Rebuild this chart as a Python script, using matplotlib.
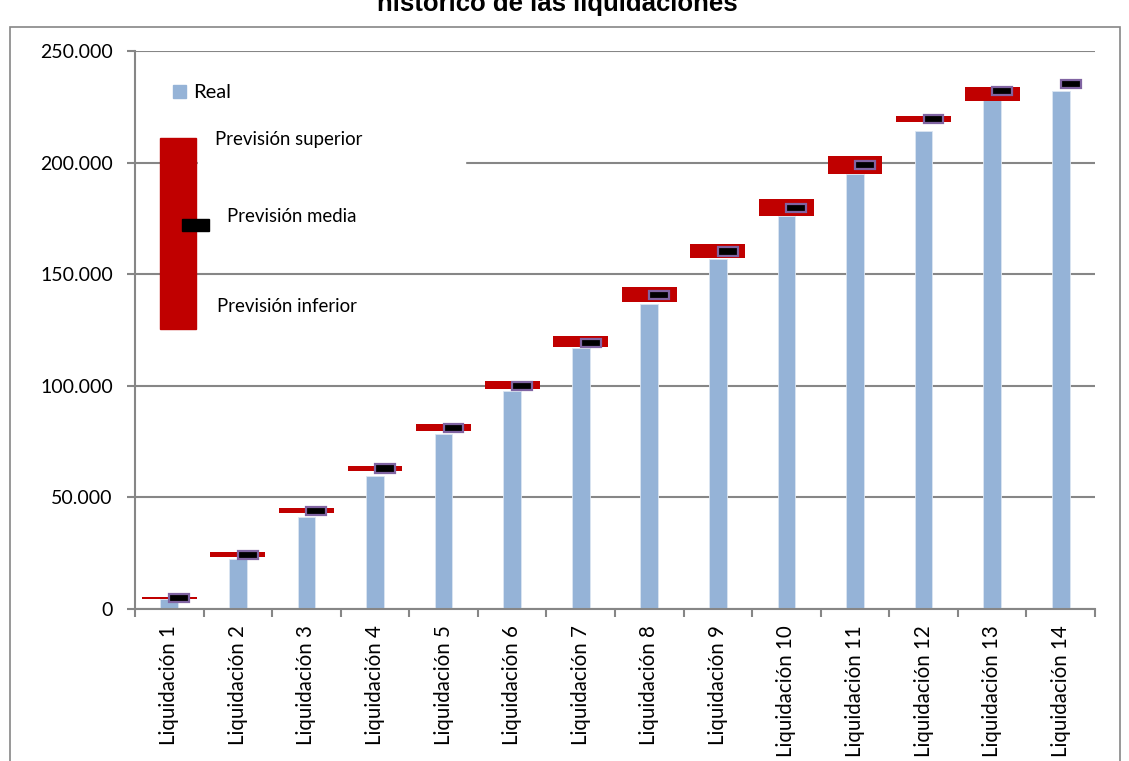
import numpy as np
import matplotlib
matplotlib.use("Agg")
import matplotlib.pyplot as plt
from matplotlib.patches import Rectangle
from matplotlib.ticker import FuncFormatter, MultipleLocator

# data
labels = ["Liquidación %d" % i for i in range(1, 15)]
real = np.array([4.2, 22.5, 40.9, 59.7, 78.3, 97.5, 116.8, 136.7,
                 156.8, 176.1, 195.0, 214.3, 228.0, 232.1]) * 1000
prev_inf = np.array([4.5, 23.1, 42.7, 61.7, 79.7, 98.4, 117.4, 137.3,
                     157.0, 176.1, 194.7, 218.2, 227.8, 235.3]) * 1000
prev_sup = np.array([5.4, 25.2, 45.2, 64.0, 82.7, 102.2, 122.1, 144.2,
                     163.5, 183.7, 203.1, 220.9, 233.9, 235.3]) * 1000
prev_med = np.array([4.9, 24.1, 43.7, 62.8, 80.9, 99.9, 119.2, 140.5,
                     160.1, 179.6, 198.9, 219.5, 232.0, 235.3]) * 1000

W, H = 1129, 761
fig = plt.figure(figsize=(W / 100, H / 100), dpi=100)
ax = fig.add_axes([135 / W, 1 - 608.7 / H, 960 / W, (608.7 - 51) / H])

grey = "#868686"
blue = "#95B3D7"
red = "#C00000"
purple = "#8064A2"
font = "Lato"

x = np.arange(len(labels))
ax.bar(x, real, width=0.26, color=blue, edgecolor="#DCE6F2", lw=0.6, zorder=2)
ax.bar(x, prev_sup - prev_inf, bottom=prev_inf, width=0.8, color=red,
       edgecolor="none", zorder=3)
mh = 3700
ax.bar(x + 0.145, np.full(len(x), mh), bottom=prev_med - mh / 2, width=0.29,
       color="black", edgecolor=purple, lw=1.6, zorder=4)

ax.set_xlim(-0.5, len(labels) - 0.5)
ax.set_ylim(0, 250000)
ax.yaxis.set_major_locator(MultipleLocator(50000))
ax.yaxis.set_major_formatter(FuncFormatter(lambda v, p: "{:,.0f}".format(v).replace(",", ".")))
ax.grid(axis="y", color=grey, lw=1.5, zorder=0)
ax.set_axisbelow(True)

ax.set_xticks(x)
ax.set_xticklabels(labels, rotation=90, fontsize=14.8, family=font)
ax.set_xticks(np.arange(-0.5, len(labels)), minor=True)
ax.tick_params(axis="x", which="major", length=0, pad=12)
ax.tick_params(axis="x", which="minor", length=6, width=1.5, color=grey)
ax.tick_params(axis="y", length=6, width=1.5, color=grey, labelsize=14, pad=10)
for t in ax.get_yticklabels():
    t.set_family(font)

for s in ["top", "right"]:
    ax.spines[s].set_visible(False)
for s in ["left", "bottom"]:
    ax.spines[s].set_color(grey)
    ax.spines[s].set_linewidth(1.5)

# legend / explanation drawn in pixel coords
def px(xp, yp):
    return xp / W, 1 - yp / H

fig.patches.append(Rectangle(px(173, 98), 13 / W, 13 / H, transform=fig.transFigure,
                             color=blue, zorder=5))
fig.text(*px(193, 92), "Real", fontsize=14.5, family=font, va="center", zorder=6)

fig.patches.append(Rectangle(px(198, 185), 267 / W, 60 / H, transform=fig.transFigure,
                             color="white", zorder=5))
fig.patches.append(Rectangle(px(160, 329), 36 / W, 191 / H, transform=fig.transFigure,
                             color=red, zorder=6))
fig.patches.append(Rectangle(px(182, 231), 27 / W, 12 / H, transform=fig.transFigure,
                             color="black", zorder=7))
fig.text(*px(215, 139), "Previsión superior", fontsize=13.4, family=font, va="center", zorder=8)
fig.text(*px(227, 216), "Previsión media", fontsize=13.4, family=font, va="center", zorder=8)
fig.text(*px(217, 306), "Previsión inferior", fontsize=13.4, family=font, va="center", zorder=8)

# outer frame and clipped title
fig.patches.append(Rectangle(px(9.5, 800), 1110 / W, 773 / H, transform=fig.transFigure,
                             fill=False, edgecolor=grey, lw=1.2, zorder=1))
fig.text(*px(557, 11), "histórico de las liquidaciones", fontsize=18.5, weight="bold",
         family="Liberation Sans", ha="center", va="baseline")

fig.savefig("out.png", dpi=100)
